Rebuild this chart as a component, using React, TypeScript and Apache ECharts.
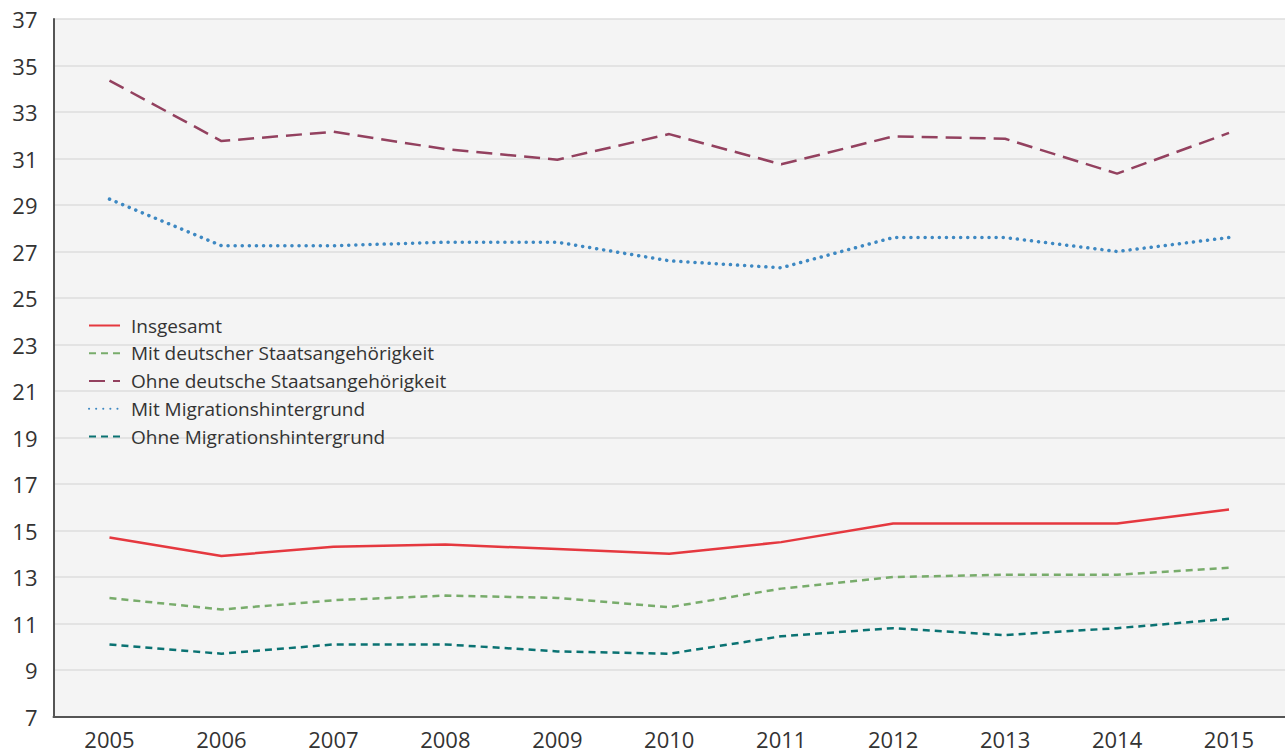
import React, { useEffect, useRef } from "react";
import * as echarts from "echarts";

const years = ["2005", "2006", "2007", "2008", "2009", "2010", "2011", "2012", "2013", "2014", "2015"];
const insgesamt = [14.7, 13.9, 14.3, 14.4, 14.2, 14.0, 14.5, 15.3, 15.3, 15.3, 15.9];
const mitDeutscher = [12.1, 11.6, 12.0, 12.2, 12.1, 11.7, 12.5, 13.0, 13.1, 13.1, 13.4];
const ohneDeutsche = [34.35, 31.75, 32.15, 31.4, 30.95, 32.05, 30.75, 31.95, 31.85, 30.35, 32.1];
const mitMigration = [29.25, 27.25, 27.25, 27.4, 27.4, 26.6, 26.3, 27.6, 27.6, 27.0, 27.6];
const ohneMigration = [10.1, 9.7, 10.1, 10.1, 9.8, 9.7, 10.45, 10.8, 10.5, 10.8, 11.2];

const FONT = "'Open Sans', 'Noto Sans', sans-serif";

export default function App() {
  const ref = useRef<HTMLDivElement>(null);
  useEffect(() => {
    document.body.style.margin = "0";
    if (!ref.current) return;
    const chart = echarts.init(ref.current, null, { renderer: "svg" });
    const mk = (name: string, data: number[], color: string, type: any, width = 2.5, cap: any = "butt") => ({
      name,
      type: "line",
      data,
      symbol: "none",
      lineStyle: { color, width, type, cap },
      itemStyle: { color },
    });
    chart.setOption({
      animation: false,
      backgroundColor: "#ffffff",
      textStyle: { fontFamily: FONT },
      grid: {
        left: 53.5,
        right: -10,
        top: 19,
        bottom: 38.5,
        show: true,
        backgroundColor: "#f4f4f4",
        borderWidth: 0,
      },
      legend: {
        orient: "vertical",
        left: 83,
        top: 311,
        itemWidth: 31,
        itemHeight: 14,
        itemGap: 8.75,
        itemStyle: { opacity: 0 },
        textStyle: { fontSize: 19, color: "#333333", fontFamily: FONT, padding: [0, 0, 0, 6] },
        data: [
          "Insgesamt",
          "Mit deutscher Staatsangehörigkeit",
          "Ohne deutsche Staatsangehörigkeit",
          "Mit Migrationshintergrund",
          "Ohne Migrationshintergrund",
        ],
      },
      xAxis: {
        type: "category",
        data: years,
        boundaryGap: true,
        axisLine: { show: true, lineStyle: { color: "#555555", width: 2 } },
        axisTick: { show: false },
        axisLabel: { fontSize: 22, color: "#333333", margin: 11, fontFamily: FONT },
        splitLine: { show: false },
      },
      yAxis: {
        type: "value",
        min: 7,
        max: 37,
        interval: 2,
        axisLine: { show: true, lineStyle: { color: "#555555", width: 2 } },
        axisTick: { show: false },
        axisLabel: { fontSize: 22, color: "#333333", margin: 16, fontFamily: FONT },
        splitLine: { show: true, lineStyle: { color: "#dedede", width: 1.5 } },
      },
      series: [
        mk("Insgesamt", insgesamt, "#e5383f", "solid", 2.5),
        mk("Mit deutscher Staatsangehörigkeit", mitDeutscher, "#78ac6b", [7, 5], 2.5),
        mk("Ohne deutsche Staatsangehörigkeit", ohneDeutsche, "#93415f", [16, 8], 2.5),
        mk("Mit Migrationshintergrund", mitMigration, "#3d88c2", [0.1, 7], 3.5, "round"),
        mk("Ohne Migrationshintergrund", ohneMigration, "#0a7272", [7, 5], 2.5),
      ],
    });
    return () => chart.dispose();
  }, []);
  return <div ref={ref} style={{ width: 1285, height: 755 }} />;
}
